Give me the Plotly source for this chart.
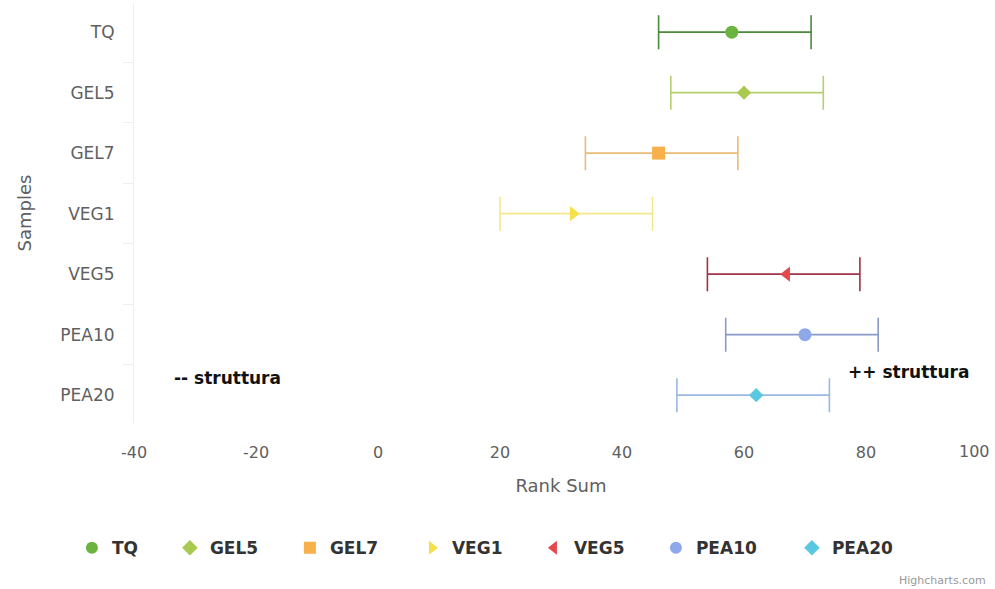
import plotly.graph_objects as go

samples = ["TQ", "GEL5", "GEL7", "VEG1", "VEG5", "PEA10", "PEA20"]
rank_sum = [58, 60, 46, 32, 67, 70, 62]
low = [46, 48, 34, 20, 54, 57, 49]
high = [71, 73, 59, 45, 79, 82, 74]
x_ticks = [-40, -20, 0, 20, 40, 60, 80, 100]

marker_colors = ["#6db33f", "#a9c94f", "#f8b14a", "#f5e04a", "#e5484d", "#8fa8ea", "#5bc8e2"]
bar_colors = ["#4a8a3a", "#b5cf70", "#e8bc78", "#f5e88a", "#9c3446", "#8a9ac8", "#9ab8e0"]
symbols = ["circle", "diamond", "square", "triangle-right", "triangle-left", "circle", "diamond"]
sizes = [13, 11, 13, 13, 13, 13, 11]
legend_widths = [53, 75, 77, 77, 77, 91, 68]

fig = go.Figure()
for i, s in enumerate(samples):
    fig.add_trace(go.Scatter(
        x=[rank_sum[i]], y=[s], name=s, mode="markers",
        legendwidth=legend_widths[i],
        marker=dict(color=marker_colors[i], symbol=symbols[i], size=sizes[i]),
        error_x=dict(type="data", symmetric=False,
                     array=[high[i] - rank_sum[i]],
                     arrayminus=[rank_sum[i] - low[i]],
                     color=bar_colors[i], thickness=1.6, width=17),
    ))

font_family = "DejaVu Sans, sans-serif"
# last tick label is drawn as an annotation shifted inward (as Highcharts does)
tick_text = [str(v) for v in x_ticks[:-1]] + [""]

fig.update_layout(
    width=995, height=589,
    margin=dict(l=134, r=7, t=3, b=166),
    plot_bgcolor="white", paper_bgcolor="white",
    font=dict(family=font_family, color="#555", size=16),
    xaxis=dict(range=[-40, 100.001], tickvals=x_ticks, ticktext=tick_text,
               showgrid=False, zeroline=False, showline=False,
               tickfont=dict(size=16, color="#606060"),
               ticks="outside", ticklen=0, ticklabelstandoff=15,
               automargin=False,
               title=dict(text="Rank Sum", font=dict(size=18, color="#606060"), standoff=18)),
    yaxis=dict(categoryorder="array", categoryarray=samples, autorange="reversed",
               showgrid=False, zeroline=False, showline=True, linecolor="#eeeeee",
               ticks="outside", tickson="boundaries", ticklen=10, tickcolor="#eeeeee",
               ticklabelstandoff=15, automargin=False,
               tickfont=dict(size=17, color="#606060"),
               title=dict(text="Samples", font=dict(size=18, color="#606060"), standoff=24)),
    legend=dict(orientation="h", x=0.415, xanchor="center",
                y=-0.298, yanchor="middle",
                font=dict(size=17, color="#333", family=font_family, weight="bold"),
                itemsizing="constant"),
    showlegend=True,
    annotations=[
        dict(text=str(x_ticks[-1]), xref="x", yref="paper", x=x_ticks[-1], y=-0.069,
             xanchor="right", yanchor="middle", xshift=4, showarrow=False,
             font=dict(size=16, color="#606060")),
        dict(text="<b>-- struttura</b>", xref="paper", yref="paper", x=0.044, y=0.107,
             xanchor="left", yanchor="middle", showarrow=False,
             font=dict(size=17, color="#111")),
        dict(text="<b>++ struttura</b>", xref="paper", yref="paper", x=0.834, y=0.121,
             xanchor="left", yanchor="middle", showarrow=False,
             font=dict(size=17, color="#111")),
        dict(text="Highcharts.com", xref="paper", yref="paper", x=1.0, y=-0.375,
             xanchor="right", yanchor="middle", showarrow=False,
             font=dict(size=11, color="#999")),
    ],
)

fig.write_html("out.html", config={"displayModeBar": False},
               post_script="document.body.style.margin='0';")
